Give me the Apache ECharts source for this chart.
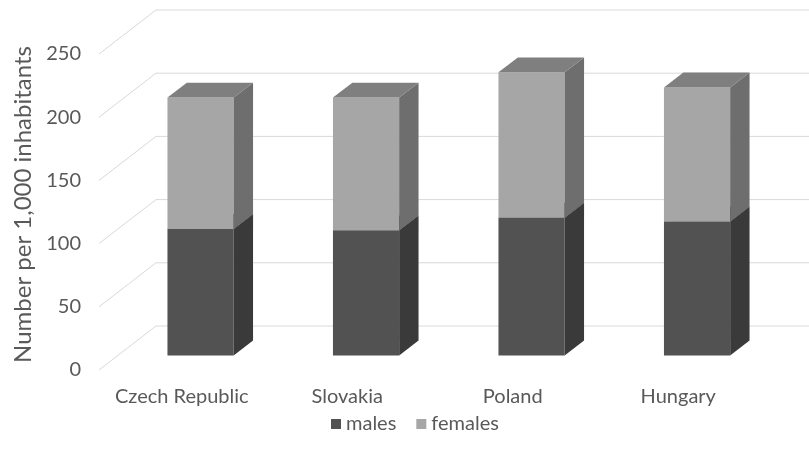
<!DOCTYPE html>
<html>
<head>
<meta charset="utf-8">
<script src="https://cdn.jsdelivr.net/npm/echarts@6/dist/echarts.min.js"></script>
<style>
  html, body { margin: 0; padding: 0; background: #ffffff; }
  #chart { width: 809px; height: 461px; }
</style>
</head>
<body>
<div id="chart"></div>
<script>
// Number per 1,000 inhabitants, split by sex
const categories = ['Czech Republic', 'Slovakia', 'Poland', 'Hungary'];
const males = [100, 99, 109, 106];
const females = [104, 105, 115, 106];
const yTicks = [0, 50, 100, 150, 200, 250];

// Oblique projection: depth vector of the whole floor, and the slice of it used by the columns
const DEPTH = [57, -44];
const COL_FRONT = 0.33;
const COL_BACK = 0.67;
const COL_WIDTH = 0.4; // share of the category band

const FONT = 'Lato';
const TEXT = '#595959';

// Wall gridline: diagonal on the side wall, then horizontal along the back wall
function gridRender(params, api) {
  const cs = params.coordSys;
  const y = api.coord([0, api.value(1)])[1];
  const x0 = cs.x;
  return {
    type: 'polyline',
    shape: { points: [[x0, y], [x0 + DEPTH[0], y + DEPTH[1]], [api.getWidth() + 5, y + DEPTH[1]]] },
    style: { stroke: '#d9d9d9', lineWidth: 1, fill: null }
  };
}

// One stacked column segment drawn as a box: front, right side and top faces
function prism(colors) {
  return function (params, api) {
    const i = api.value(0), base = api.value(1), top = api.value(2);
    const p0 = api.coord([i, base]);
    const p1 = api.coord([i, top]);
    const band = api.size([1, 0])[0];
    const w = band * COL_WIDTH;
    const fx = DEPTH[0] * COL_FRONT, fy = DEPTH[1] * COL_FRONT;
    const bx = DEPTH[0] * (COL_BACK - COL_FRONT), by = DEPTH[1] * (COL_BACK - COL_FRONT);
    const xl = p0[0] - w / 2 + fx, xr = xl + w;
    const yb = p0[1] + fy, yt = p1[1] + fy;
    return {
      type: 'group',
      children: [
        { type: 'polygon', shape: { points: [[xl, yt], [xr, yt], [xr, yb], [xl, yb]] }, style: { fill: colors.front } },
        { type: 'polygon', shape: { points: [[xr, yt], [xr + bx, yt + by], [xr + bx, yb + by], [xr, yb]] }, style: { fill: colors.side } },
        { type: 'polygon', shape: { points: [[xl, yt], [xl + bx, yt + by], [xr + bx, yt + by], [xr, yt]] }, style: { fill: colors.top } }
      ]
    };
  };
}

const maleColors = { front: '#525252', side: '#3a3a3a', top: '#474747' };
const femaleColors = { front: '#a6a6a6', side: '#6e6e6e', top: '#7f7f7f' };

const maleData = categories.map((c, i) => [i, 0, males[i]]);
const femaleData = categories.map((c, i) => [i, males[i], males[i] + females[i]]);

const chart = echarts.init(document.getElementById('chart'), null, { renderer: 'canvas' });
chart.setOption({
  animation: false,
  backgroundColor: '#ffffff',
  grid: { left: 99, right: 48, top: 54, bottom: 91, containLabel: false },
  legend: {
    data: ['males', 'females'],
    left: 326,
    top: 409,
    icon: 'rect',
    itemWidth: 10,
    itemHeight: 10,
    itemGap: 20,
    textStyle: { fontFamily: FONT, fontSize: 20, color: TEXT }
  },
  xAxis: {
    type: 'category',
    data: categories,
    axisLine: { show: false },
    axisTick: { show: false },
    splitLine: { show: false },
    axisLabel: { margin: 17, fontFamily: FONT, fontSize: 20, color: TEXT, interval: 0 }
  },
  yAxis: {
    type: 'value',
    min: 0,
    max: 250,
    interval: 50,
    axisLine: { show: false },
    axisTick: { show: false },
    splitLine: { show: false },
    axisLabel: { margin: 18, fontFamily: FONT, fontSize: 20, color: TEXT },
    name: 'Number per 1,000 inhabitants',
    nameLocation: 'middle',
    nameRotate: 90,
    nameGap: 62,
    nameTextStyle: { fontFamily: FONT, fontSize: 24, color: TEXT, padding: [0, 0, 0, 15] }
  },
  series: [
    {
      type: 'custom',
      name: 'gridlines',
      z: 1,
      silent: true,
      renderItem: gridRender,
      encode: { x: 0, y: 1 },
      data: yTicks.map(v => [0, v])
    },
    {
      type: 'custom',
      name: 'males',
      z: 2,
      itemStyle: { color: maleColors.front },
      renderItem: prism(maleColors),
      encode: { x: 0, y: [1, 2] },
      data: maleData
    },
    {
      type: 'custom',
      name: 'females',
      z: 3,
      itemStyle: { color: femaleColors.front },
      renderItem: prism(femaleColors),
      encode: { x: 0, y: [1, 2] },
      data: femaleData
    }
  ]
});
</script>
</body>
</html>
